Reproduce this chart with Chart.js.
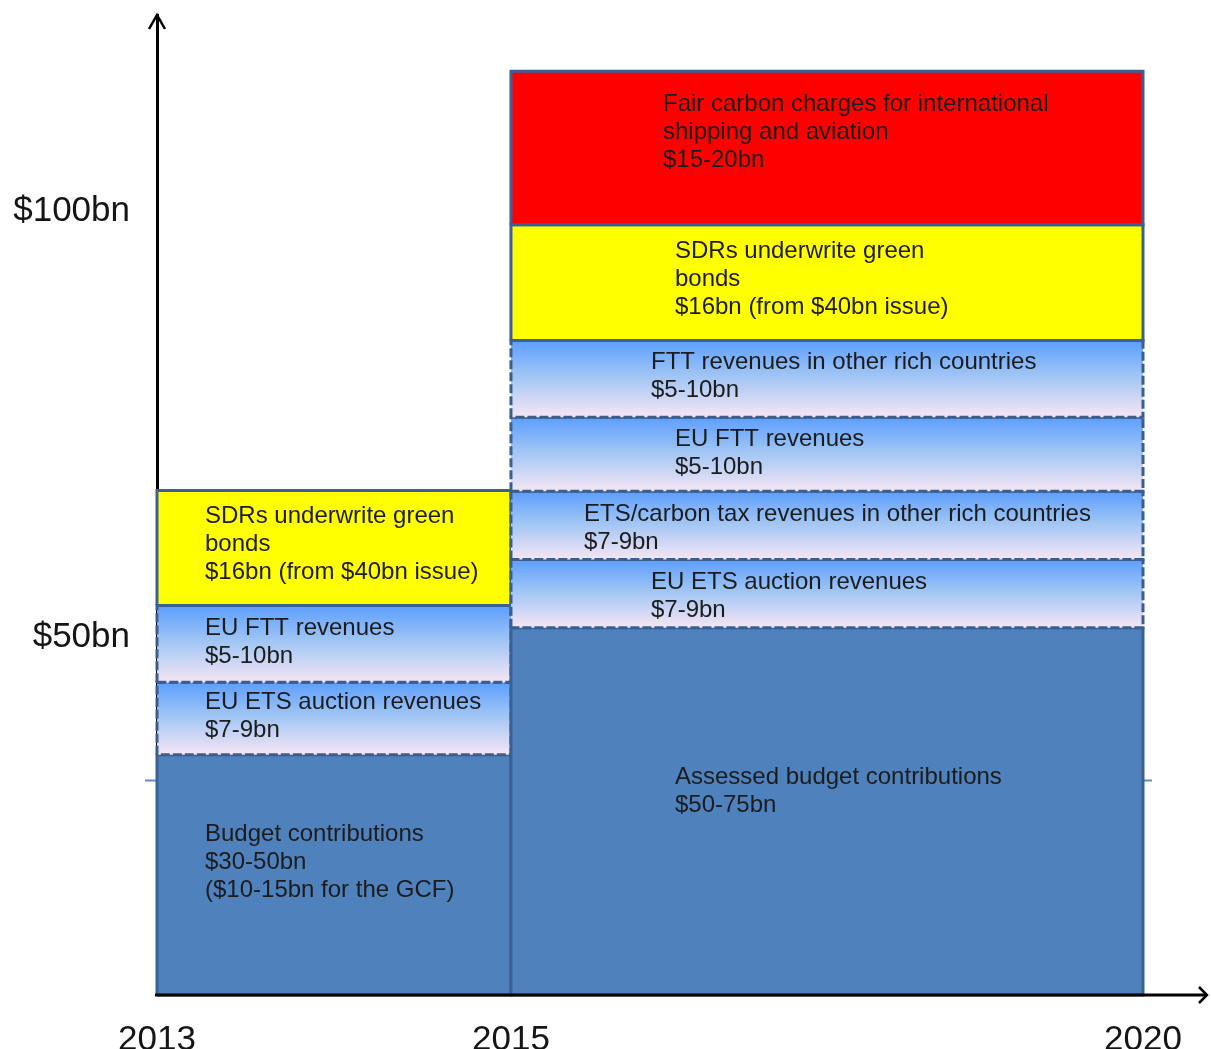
<!DOCTYPE html>
<html>
<head>
<meta charset="utf-8">
<script src="https://cdn.jsdelivr.net/npm/chart.js@4/dist/chart.umd.min.js"></script>
<style>
  html, body { margin: 0; padding: 0; background: #ffffff; }
  #wrap { width: 1211px; height: 1049px; position: relative; }
</style>
</head>
<body>
<div id="wrap"><canvas id="c" width="1211" height="1049" style="width:1211px;height:1049px"></canvas></div>
<script>
// ---------------- data ----------------
const xTicks = [2013, 2015, 2020];
const yTicks = [50, 100];
const yTickLabels = ['$50bn', '$100bn'];
const periodStart = [2013, 2015];
const periodEnd = [2015, 2020];
const stackBase = 8;            // value at the horizontal axis

// 2013-2015 bar, bottom to top
const leftLabels = [
  'Budget contributions\n$30-50bn\n($10-15bn for the GCF)',
  'EU ETS auction revenues\n$7-9bn',
  'EU FTT revenues\n$5-10bn',
  'SDRs underwrite green\nbonds\n$16bn (from $40bn issue)'
];
const leftValues = [28.2, 8.5, 9.0, 13.5];
const leftKinds = ['budget', 'gradient', 'gradient', 'yellow'];

// 2015-2020 bar, bottom to top
const rightLabels = [
  'Assessed budget contributions\n$50-75bn',
  'EU ETS auction revenues\n$7-9bn',
  'ETS/carbon tax revenues in other rich countries\n$7-9bn',
  'EU FTT revenues\n$5-10bn',
  'FTT revenues in other rich countries\n$5-10bn',
  'SDRs underwrite green\nbonds\n$16bn (from $40bn issue)',
  'Fair carbon charges for international\nshipping and aviation\n$15-20bn'
];
const rightValues = [43.1, 8.0, 8.0, 8.7, 9.0, 13.6, 18.0];
const rightKinds = ['budget', 'gradient', 'gradient', 'gradient', 'gradient', 'yellow', 'red'];

const guideValues = [33.2];

// ---------------- layout / style ----------------
const xFractions = [0, 0.359, 1];   // where each x tick sits along the axis
const leftLabelOffsets = [[48, 80], [48, 20], [48, 23], [48, 26]];
const rightLabelOffsets = [[164, 150], [140, 23], [73, 23], [164, 22], [140, 22], [164, 27], [152, 33]];
const LINE_GAP = 28;
const FONT = '"Liberation Sans", Arial, Helvetica, sans-serif';
const kindStyles = {
  budget:   { fill: '#4f81bd', border: '#3a6193', dash: [] },
  gradient: { fill: 'gradient', border: '#3a5f8f', dash: [9, 3] },
  yellow:   { fill: '#ffff00', border: '#3a6193', dash: [] },
  red:      { fill: '#ff0000', border: '#3a6193', dash: [] }
};

// ---------------- custom x scale (uneven period spacing) ----------------
const LinearBase = Chart.LinearScale || Chart.registry.getScale('linear');
class SegmentedScale extends LinearBase {
  _dec(v) {
    const b = xTicks, f = xFractions;
    let i = 1;
    while (i < b.length - 1 && v > b[i]) i++;
    return f[i - 1] + (v - b[i - 1]) * (f[i] - f[i - 1]) / (b[i] - b[i - 1]);
  }
  getPixelForValue(v) { return this.getPixelForDecimal(this._dec(v)); }
  getValueForPixel(p) {
    const d = this.getDecimalForPixel(p);
    const b = xTicks, f = xFractions;
    let i = 1;
    while (i < f.length - 1 && d > f[i]) i++;
    return b[i - 1] + (d - f[i - 1]) * (b[i] - b[i - 1]) / (f[i] - f[i - 1]);
  }
}
SegmentedScale.id = 'segmented';
SegmentedScale.defaults = LinearBase.defaults;
Chart.register(SegmentedScale);

// ---------------- build segments ----------------
function buildSegments(start, end, values, labels, kinds, offsets) {
  let b = stackBase;
  return values.map((v, i) => {
    const seg = { start, end, bottom: b, top: b + v, label: labels[i], kind: kinds[i], offset: offsets[i] };
    b += v;
    return seg;
  });
}
const segments = [
  ...buildSegments(periodStart[0], periodEnd[0], leftValues, leftLabels, leftKinds, leftLabelOffsets),
  ...buildSegments(periodStart[1], periodEnd[1], rightValues, rightLabels, rightKinds, rightLabelOffsets)
];

function gradientFor(seg) {
  return (ctx) => {
    const chart = ctx.chart;
    const y = chart.scales && chart.scales.y;
    if (!y || !chart.chartArea) return '#9cc3f5';
    const y0 = y.getPixelForValue(seg.top), y1 = y.getPixelForValue(seg.bottom);
    const g = chart.ctx.createLinearGradient(0, y0, 0, y1);
    g.addColorStop(0, '#5c9eff');
    g.addColorStop(0.45, '#9ec4f4');
    g.addColorStop(1, '#f6e6f4');
    return g;
  };
}

const datasets = segments.map((s, i) => {
  const st = kindStyles[s.kind];
  return {
    label: s.label.replace(/\n/g, ' '),
    data: [
      { x: s.start, y: s.bottom }, { x: s.start, y: s.top },
      { x: s.end, y: s.top }, { x: s.end, y: s.bottom }, { x: s.start, y: s.bottom }
    ],
    showLine: true,
    fill: 'shape',
    tension: 0,
    pointRadius: 0,
    pointHoverRadius: 0,
    clip: false,
    order: -i,
    borderColor: st.border,
    borderWidth: 3,
    borderDash: st.dash,
    borderJoinStyle: 'miter',
    borderCapStyle: 'butt',
    backgroundColor: st.fill === 'gradient' ? gradientFor(s) : st.fill
  };
});

// ---------------- plugins ----------------
const decorPlugin = {
  id: 'decor',
  beforeDatasetsDraw(chart) {
    const { ctx, chartArea: a, scales: { y } } = chart;
    ctx.save();
    ctx.strokeStyle = '#5b8bd0';
    ctx.lineWidth = 2;
    guideValues.forEach(v => {
      const py = Math.round(y.getPixelForValue(v)) + 0.5;
      ctx.beginPath();
      ctx.moveTo(a.left - 12, py);
      ctx.lineTo(a.right + 9, py);
      ctx.stroke();
    });
    ctx.restore();
  },
  afterDatasetsDraw(chart) {
    const { ctx, chartArea: a } = chart;
    ctx.save();
    ctx.strokeStyle = '#000000';
    ctx.lineWidth = 3;
    ctx.lineCap = 'butt';
    // x axis with arrow
    const tipX = a.right + 64;
    ctx.beginPath();
    ctx.moveTo(a.left - 2, a.bottom);
    ctx.lineTo(tipX, a.bottom);
    ctx.stroke();
    ctx.lineWidth = 2.5;
    ctx.beginPath();
    ctx.moveTo(tipX - 8, a.bottom - 8);
    ctx.lineTo(tipX, a.bottom);
    ctx.lineTo(tipX - 8, a.bottom + 8);
    ctx.stroke();
    // y arrow head
    ctx.beginPath();
    ctx.moveTo(a.left - 8, a.top + 14);
    ctx.lineTo(a.left, a.top);
    ctx.lineTo(a.left + 8, a.top + 14);
    ctx.stroke();
    // box texts
    const { x, y } = chart.scales;
    ctx.font = '24px ' + FONT;
    ctx.fillStyle = '#1c1c1c';
    ctx.textBaseline = 'middle';
    ctx.textAlign = 'left';
    segments.forEach(s => {
      const left = x.getPixelForValue(s.start);
      const top = y.getPixelForValue(s.top);
      s.label.split('\n').forEach((line, i) => {
        ctx.fillText(line, left + s.offset[0], top + s.offset[1] + i * LINE_GAP);
      });
    });
    ctx.restore();
  }
};

// ---------------- chart ----------------
new Chart(document.getElementById('c'), {
  type: 'scatter',
  data: { datasets },
  options: {
    responsive: false,
    animation: false,
    events: [],
    layout: { padding: { left: 0, right: 68, top: 15, bottom: 0 } },
    plugins: { legend: { display: false }, tooltip: { enabled: false } },
    scales: {
      x: {
        type: 'segmented',
        min: xTicks[0],
        max: xTicks[xTicks.length - 1],
        afterBuildTicks: (s) => { s.ticks = xTicks.map(v => ({ value: v })); },
        afterFit: (s) => { s.height = 54; s.paddingLeft = 0; s.paddingRight = 0; },
        grid: { display: false, drawTicks: false },
        border: { display: false },
        ticks: {
          autoSkip: false,
          maxRotation: 0,
          padding: 24,
          color: '#151515',
          font: { family: FONT, size: 35 },
          callback: (v) => String(v)
        }
      },
      y: {
        type: 'linear',
        min: stackBase,
        max: 123,
        afterBuildTicks: (s) => { s.ticks = yTicks.map(v => ({ value: v })); },
        afterFit: (s) => { s.width = 157; s.paddingTop = 0; s.paddingBottom = 0; },
        grid: { display: false, drawTicks: false },
        border: { display: true, color: '#000000', width: 3 },
        ticks: {
          padding: 27,
          color: '#151515',
          font: { family: FONT, size: 35 },
          callback: (v) => yTickLabels[yTicks.indexOf(v)]
        }
      }
    }
  },
  plugins: [decorPlugin]
});
</script>
</body>
</html>
